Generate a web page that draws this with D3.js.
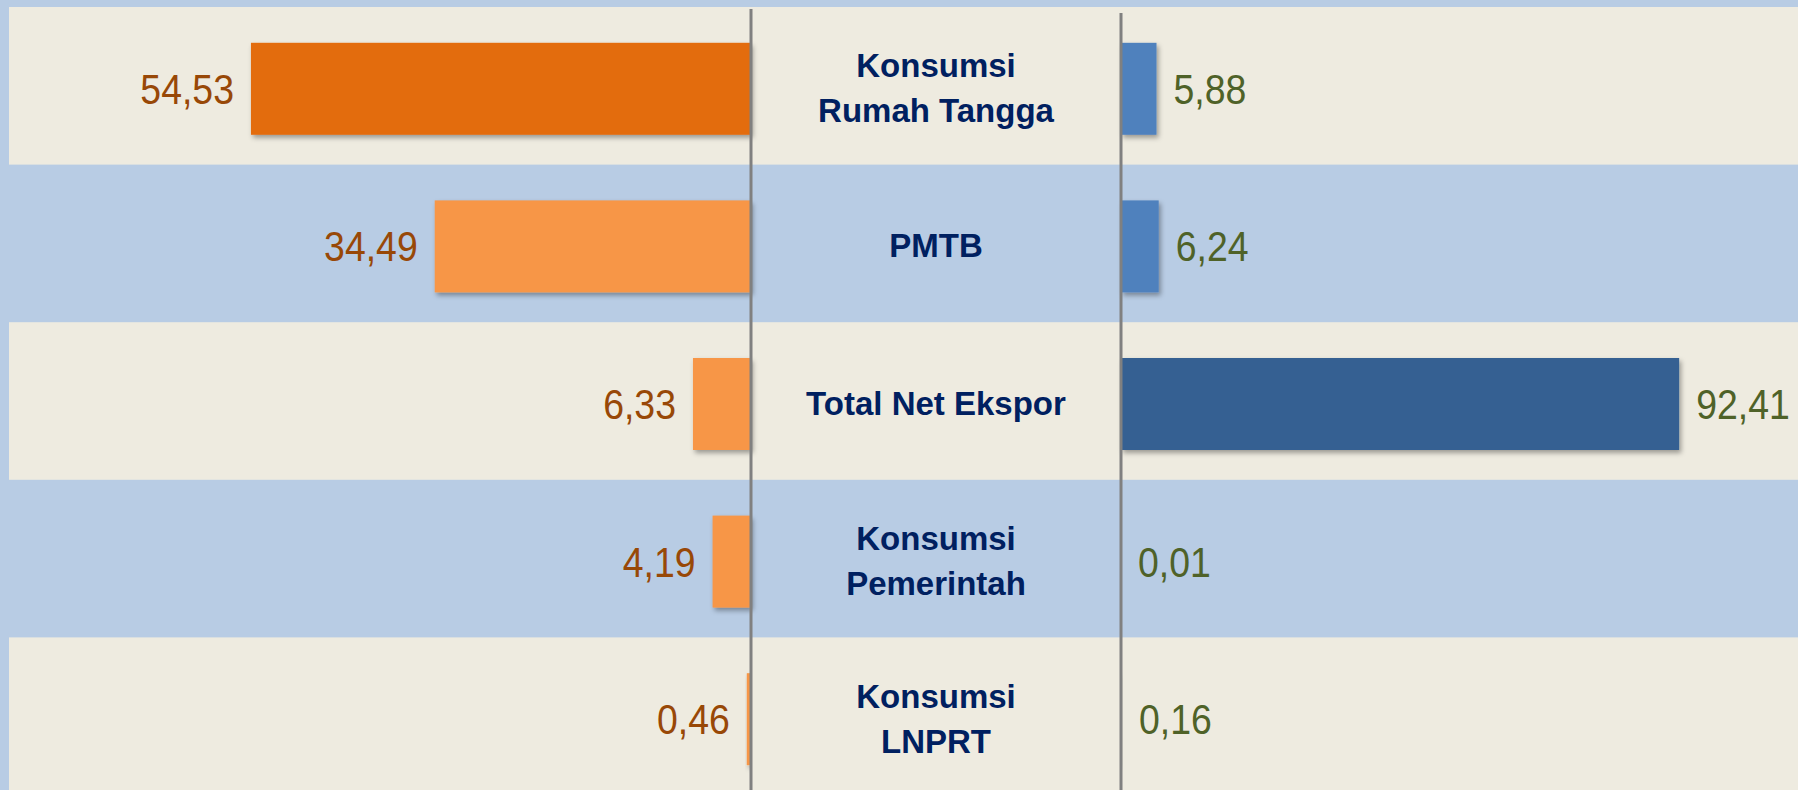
<!DOCTYPE html>
<html>
<head>
<meta charset="utf-8">
<script src="https://cdn.jsdelivr.net/npm/d3@7"></script>
<style>
  body { margin: 0; background: #b8cce4; overflow: hidden; }
  svg { display: block; }
</style>
</head>
<body>
<svg></svg>
<script>
let width = 1798, height = 790;

// chart data
const categories = [["Konsumsi", "Rumah Tangga"], ["PMTB"], ["Total Net Ekspor"], ["Konsumsi", "Pemerintah"], ["Konsumsi", "LNPRT"]];
const leftValues = [54.53, 34.49, 6.33, 4.19, 0.46];
const rightValues = [5.88, 6.24, 92.41, 0.01, 0.16];

let svg = d3.select("svg")
    .attr("width", width)
    .attr("height", height);

let rowH = 157.6;
let y = d3.scaleBand()
    .domain(d3.range(categories.length))
    .range([7, 7 + rowH * categories.length]);

let leftAxisX = 751, rightAxisX = 1121;

let xLeft = d3.scaleLinear().domain([0, 60]).range([leftAxisX, leftAxisX - 550.2]);
let xRight = d3.scaleLinear().domain([0, 100]).range([rightAxisX, rightAxisX + 604]);

let leftColor = i => i == 0 ? "#e36c09" : "#f79646";
let rightColor = i => i == 2 ? "#366092" : "#4f81bd";

// drop shadow for bars
let defs = svg.append("defs");
let f = defs.append("filter")
    .attr("id", "shadow")
    .attr("x", "-20%").attr("y", "-20%")
    .attr("width", "140%").attr("height", "150%");
f.append("feDropShadow")
    .attr("dx", 2).attr("dy", 3)
    .attr("stdDeviation", 2.5)
    .attr("flood-color", "#000")
    .attr("flood-opacity", 0.35);

// background stripes
svg.append("rect")
    .attr("width", width).attr("height", height)
    .attr("fill", "#b8cce4");

svg.append("g")
    .selectAll("rect")
    .data(categories)
    .enter()
    .append("rect")
    .attr("x", 9)
    .attr("y", (d, i) => y(i))
    .attr("width", width - 9)
    .attr("height", y.bandwidth())
    .attr("fill", (d, i) => i % 2 == 0 ? "#eeebe0" : "none");

let barH = 92, barOff = 3;

// left bars
svg.append("g")
    .selectAll("rect")
    .data(leftValues)
    .enter()
    .append("rect")
    .attr("x", d => xLeft(d))
    .attr("y", (d, i) => y(i) + y.bandwidth() / 2 - barH / 2 + barOff)
    .attr("width", d => xLeft(0) - xLeft(d))
    .attr("height", barH)
    .attr("fill", (d, i) => leftColor(i))
    .attr("filter", "url(#shadow)");

// right bars
svg.append("g")
    .selectAll("rect")
    .data(rightValues)
    .enter()
    .append("rect")
    .attr("x", xRight(0))
    .attr("y", (d, i) => y(i) + y.bandwidth() / 2 - barH / 2 + barOff)
    .attr("width", d => xRight(d) - xRight(0))
    .attr("height", barH)
    .attr("fill", (d, i) => rightColor(i))
    .attr("filter", "url(#shadow)");

let fmt = v => d3.format(".2f")(v).replace(".", ",");
// narrow look for the numbers: squeeze Liberation Sans horizontally
let squeeze = 0.87;

svg.append("g")
    .selectAll("text")
    .data(leftValues)
    .enter()
    .append("text")
    .attr("transform", (d, i) => "translate(" + (xLeft(d) - 17) + "," + (y(i) + y.bandwidth() / 2 + 18) + ") scale(" + squeeze + ",1)")
    .attr("text-anchor", "end")
    .style("font-family", "'Liberation Sans', Arial, sans-serif")
    .style("font-size", "43px")
    .style("fill", "#984807")
    .text(fmt);

svg.append("g")
    .selectAll("text")
    .data(rightValues)
    .enter()
    .append("text")
    .attr("transform", (d, i) => "translate(" + (xRight(d) + 17) + "," + (y(i) + y.bandwidth() / 2 + 18) + ") scale(" + squeeze + ",1)")
    .attr("text-anchor", "start")
    .style("font-family", "'Liberation Sans', Arial, sans-serif")
    .style("font-size", "43px")
    .style("fill", "#4f6228")
    .text(fmt);

// category labels in the middle
let centerX = (leftAxisX + rightAxisX) / 2;
let lineH = 45;
let cat = svg.append("g")
    .selectAll("text")
    .data(categories)
    .enter()
    .append("text")
    .attr("text-anchor", "middle")
    .style("font-family", "'Liberation Sans', Arial, sans-serif")
    .style("font-weight", "bold")
    .style("font-size", "33px")
    .style("fill", "#002060");

cat.selectAll("tspan")
    .data((d, i) => d.map((s, j) => ({ s: s, j: j, n: d.length, i: i })))
    .enter()
    .append("tspan")
    .attr("x", centerX)
    .attr("y", d => y(d.i) + y.bandwidth() / 2 + 14 + (d.j - (d.n - 1) / 2) * lineH)
    .text(d => d.s);

// the two vertical axis lines
svg.append("line")
    .attr("x1", leftAxisX).attr("x2", leftAxisX)
    .attr("y1", 9).attr("y2", height)
    .attr("stroke", "#808080").attr("stroke-width", 3);

svg.append("line")
    .attr("x1", rightAxisX).attr("x2", rightAxisX)
    .attr("y1", 13).attr("y2", height)
    .attr("stroke", "#808080").attr("stroke-width", 3);
</script>
</body>
</html>
